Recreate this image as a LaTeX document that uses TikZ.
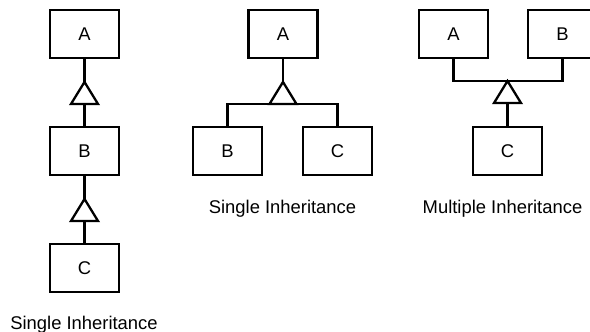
\documentclass[tikz,border=0pt]{standalone}
\usepackage{fontspec}
\setmainfont{Liberation Sans}
\begin{document}
\begin{tikzpicture}[x=1pt,y=-1pt,
  cls/.style={draw, line width=2.3pt, minimum width=69pt, minimum height=48pt, inner sep=0pt, font=\fontsize{18.4}{21}\selectfont},
  conn/.style={line width=2.3pt},
  gentri/.style={line width=2.3pt, fill=white},
  caption/.style={anchor=base, inner sep=0pt, font=\fontsize{18.4}{21}\selectfont}]
\useasboundingbox (0,0) rectangle (590,332);
% left chain
\node[cls] (A1) at (84.5,34) {A};
\node[cls] (B1) at (84.5,151) {B};
\node[cls] (C1) at (84.5,268) {C};
\coordinate (t1) at (84.5,82);
\coordinate (t1b) at (84.5,104);
\coordinate (t1c) at (84.5,199);
\coordinate (t1d) at (84.5,221);
\draw[conn] (A1.south) -- (t1);
\draw[conn] (t1b) -- (B1.north);
\draw[conn] (B1.south) -- (t1c);
\draw[conn] (t1d) -- (C1.north);
\draw[gentri] (t1) -- ++(-13.5,22) -- ++(27,0) -- cycle;
\draw[gentri] (t1c) -- ++(-13.5,22) -- ++(27,0) -- cycle;
\node[caption] (L1) at (84,329) {Single Inheritance};
% middle
\node[cls] (A2) at (283,34) {A};
\node[cls] (B2) at (227.5,151) {B};
\node[cls] (C2) at (337.5,151) {C};
\coordinate (t2) at (283,82);
\coordinate (t2b) at (283,104);
\draw[conn] (A2.south) -- (t2);
\draw[conn] (B2.north) |- (t2b) -| (C2.north);
\draw[gentri] (t2) -- ++(-13.5,22) -- ++(27,0) -- cycle;
\node[caption] (L2) at (282.5,213) {Single Inheritance};
% right
\node[cls] (A3) at (453.5,34) {A};
\node[cls] (B3) at (562.5,34) {B};
\node[cls] (C3) at (507.5,151) {C};
\coordinate (t3) at (507.5,81);
\coordinate (t3b) at (507.5,103);
\draw[conn] (A3.south) |- (t3) -| (B3.south);
\draw[conn] (t3b) -- (C3.north);
\draw[gentri] (t3) -- ++(-13.5,22) -- ++(27,0) -- cycle;
\node[caption] (L3) at (502.5,213) {Multiple Inheritance};
\end{tikzpicture}
\end{document}
